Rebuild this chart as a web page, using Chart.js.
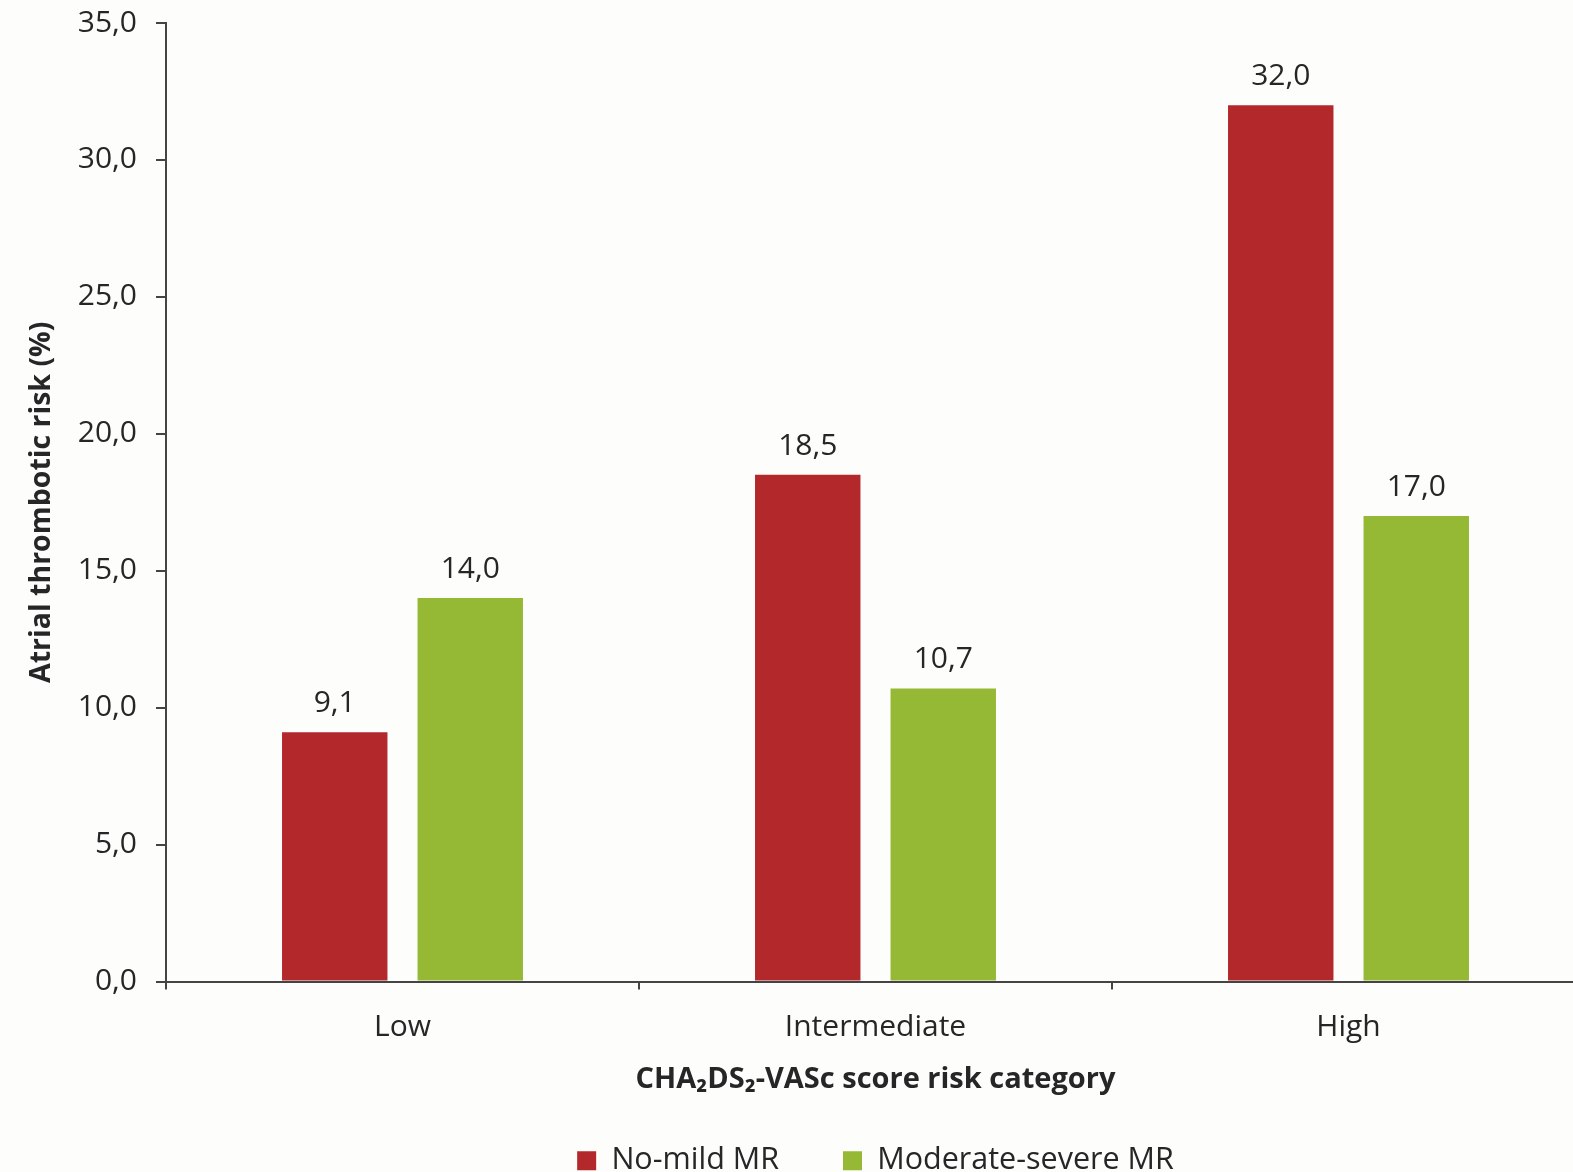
<!DOCTYPE html>
<html>
<head>
<meta charset="utf-8">
<script src="https://cdn.jsdelivr.net/npm/chart.js@4"></script>
<style>
  html, body { margin: 0; padding: 0; background: #fdfdfb; overflow: hidden; }
  #wrap { width: 1600px; height: 1186px; }
</style>
</head>
<body>
<div id="wrap"><canvas id="chart" width="1600" height="1186"></canvas></div>
<script>
// Risk categories and the two MR groups
const categories = ['Low', 'Intermediate', 'High'];
const noMildMR = [9.1, 18.5, 32.0];
const moderateSevereMR = [14.0, 10.7, 17.0];
const yTicks = [0, 5, 10, 15, 20, 25, 30, 35];

const seriesNames = ['No-mild MR', 'Moderate-severe MR'];
const seriesColors = ['#b3282b', '#95b934'];

const FONT = '"Open Sans", "DejaVu Sans", sans-serif';
const TEXT = '#262626';
const comma = v => Number(v).toFixed(1).replace('.', ',');

// Values printed above each bar
const barValueLabels = {
  id: 'barValueLabels',
  afterDatasetsDraw(chart) {
    const ctx = chart.ctx;
    ctx.save();
    ctx.font = '30px ' + FONT;
    ctx.fillStyle = TEXT;
    ctx.textAlign = 'center';
    ctx.textBaseline = 'alphabetic';
    chart.data.datasets.forEach((ds, di) => {
      const meta = chart.getDatasetMeta(di);
      meta.data.forEach((bar, i) => {
        ctx.fillText(comma(ds.data[i]), bar.x, bar.y - 20);
      });
    });
    ctx.restore();
  }
};

const pageBackground = {
  id: 'pageBackground',
  beforeDraw(chart) {
    const ctx = chart.ctx;
    ctx.save();
    ctx.fillStyle = '#fdfdfb';
    ctx.fillRect(0, 0, chart.width, chart.height);
    ctx.restore();
  }
};

new Chart(document.getElementById('chart'), {
  type: 'bar',
  data: {
    labels: categories,
    datasets: [
      { label: seriesNames[0], data: noMildMR, backgroundColor: seriesColors[0] },
      { label: seriesNames[1], data: moderateSevereMR, backgroundColor: seriesColors[1] }
    ]
  },
  options: {
    responsive: false,
    animation: false,
    devicePixelRatio: 1,
    categoryPercentage: 0.573,
    barPercentage: 0.778,
    layout: { padding: { top: 23, right: 15, left: 0, bottom: 0 } },
    plugins: {
      tooltip: { enabled: false },
      legend: {
        position: 'bottom',
        fullSize: false,
        labels: {
          boxWidth: 19,
          boxHeight: 19,
          padding: 64,
          color: TEXT,
          font: { family: FONT, size: 30.5 }
        }
      }
    },
    scales: {
      x: {
        grid: { drawOnChartArea: false, drawTicks: true, tickLength: 8, color: '#444', lineWidth: 2 },
        border: { color: '#444', width: 2 },
        ticks: { color: TEXT, padding: 20, font: { family: FONT, size: 30 } },
        title: {
          display: true,
          text: 'CHA\u2082DS\u2082-VASc score risk category',
          color: TEXT,
          font: { family: FONT, size: 29, weight: 'bold' },
          padding: { top: 0, bottom: -16 }
        },
        afterFit(scale) { scale.height = 100; }
      },
      y: {
        min: 0,
        max: 35,
        afterBuildTicks(scale) { scale.ticks = yTicks.map(v => ({ value: v })); },
        grid: { drawOnChartArea: false, drawTicks: true, tickLength: 10, color: '#444', lineWidth: 2 },
        border: { color: '#444', width: 2 },
        ticks: {
          color: TEXT,
          padding: 19,
          font: { family: FONT, size: 30 },
          callback: v => comma(v)
        },
        title: {
          display: true,
          text: 'Atrial thrombotic risk (%)',
          color: TEXT,
          font: { family: FONT, size: 28.5, weight: 'bold' },
          padding: { top: 25, bottom: 0 }
        },
        afterFit(scale) {
          scale.width = 166;
          scale.paddingTop = 0;
          scale.paddingBottom = 0;
        }
      }
    }
  },
  plugins: [pageBackground, barValueLabels]
});
</script>
</body>
</html>
